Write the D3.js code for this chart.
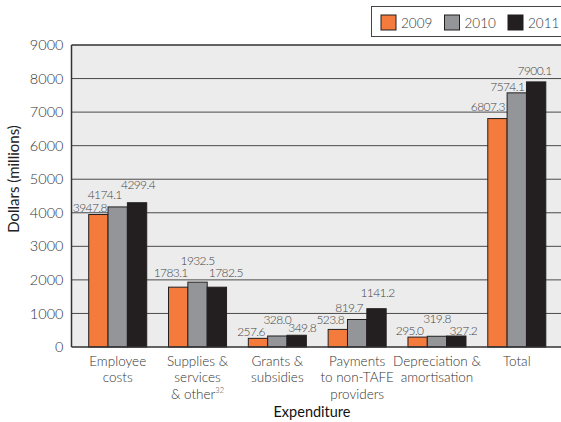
<!DOCTYPE html>
<html>
<head>
<meta charset="utf-8">
<script src="https://cdn.jsdelivr.net/npm/d3@7"></script>
<style>
  html, body { margin: 0; padding: 0; background: #fff; }
  svg { display: block; font-family: Lato, "Open Sans", sans-serif; font-weight: 300; }
</style>
</head>
<body>
<svg id="chart" width="561" height="422"></svg>
<script>
// ---- data ----
const categories = [
  ["Employee", "costs"],
  ["Supplies &", "services", "& other"],
  ["Grants &", "subsidies"],
  ["Payments", "to non-TAFE", "providers"],
  ["Depreciation &", "amortisation"],
  ["Total"]
];
const categoryKeys = ["Employee costs", "Supplies & services & other", "Grants & subsidies",
  "Payments to non-TAFE providers", "Depreciation & amortisation", "Total"];
const years = ["2009", "2010", "2011"];
const values2009 = [3947.8, 1783.1, 257.6, 523.8, 295.0, 6807.3];
const values2010 = [4174.1, 1932.5, 328.0, 819.7, 319.8, 7574.1];
const values2011 = [4299.4, 1782.5, 349.8, 1141.2, 327.2, 7900.1];
const yTicks = [0, 1000, 2000, 3000, 4000, 5000, 6000, 7000, 8000, 9000];

// ---- layout (label nudges relative to bar centre / bar top) ----
const labelNudge = [
  [[-8.5, -6.5], [-13, -12], [1, -17.7]],
  [[-7.5, -14], [0, -21], [9, -14]],
  [[-7, -6], [0, -15.5], [5.5, -7]],
  [[-7.5, -9.4], [-8, -11.5], [1, -15.7]],
  [[-8, -6], [0, -17], [7, -5]],
  [[-9.6, -11.6], [-9.5, -6], [-1.5, -11]]
];
const colors = ["#F47B3B", "#939598", "#231F20"];

const series = [values2009, values2010, values2011];
const svg = d3.select("#chart");
const mLeft = 71.5, mTop = 45, mBottom = 347, mRight = 563;

const y = d3.scaleLinear().domain([0, 9000]).range([mBottom, mTop]);
const x = d3.scaleBand().domain(categoryKeys).range([mLeft, mRight])
  .paddingInner(0.273).paddingOuter(0.2155);
const xs = d3.scaleBand().domain(years).range([0, x.bandwidth()]);

// plot background
svg.append("rect").attr("x", mLeft).attr("y", mTop)
  .attr("width", mRight - mLeft).attr("height", mBottom - mTop).attr("fill", "#ECECEC");

// gridlines
svg.append("g").selectAll("line").data(yTicks.filter(d => d > 0 && d < 9000)).join("line")
  .attr("x1", mLeft).attr("x2", mRight)
  .attr("y1", d => y(d)).attr("y2", d => y(d))
  .attr("stroke", "#4a4a4a").attr("stroke-width", 1);

// top border
svg.append("line").attr("x1", mLeft).attr("x2", mRight).attr("y1", y(9000)).attr("y2", y(9000))
  .attr("stroke", "#333").attr("stroke-width", 1.3);

// y axis
const yAxis = d3.axisLeft(y).tickValues(yTicks).tickSize(0).tickPadding(8).tickFormat(d3.format("d"));
const yg = svg.append("g").attr("transform", `translate(${mLeft},0)`).call(yAxis);
yg.select(".domain").remove();
yg.selectAll("text").attr("font-size", 14.5).attr("fill", "#333")
  .attr("font-family", "Lato, sans-serif").attr("font-weight", 300);

// bars
const groups = svg.append("g").selectAll("g").data(categoryKeys).join("g")
  .attr("transform", d => `translate(${x(d)},0)`);
groups.each(function(cat, ci) {
  const g = d3.select(this);
  years.forEach((yr, si) => {
    const v = series[si][ci];
    g.append("rect")
      .attr("x", xs(yr)).attr("width", xs.bandwidth())
      .attr("y", y(v)).attr("height", y(0) - y(v))
      .attr("fill", colors[si]).attr("stroke", "#231F20").attr("stroke-width", 1);
  });
  years.forEach((yr, si) => {
    const v = series[si][ci];
    const n = labelNudge[ci][si];
    g.append("text")
      .attr("x", xs(yr) + xs.bandwidth() / 2 + n[0])
      .attr("y", y(v) + n[1] + 4)
      .attr("text-anchor", "middle")
      .attr("font-size", 12).attr("letter-spacing", -0.6)
      .attr("fill", "#444")
      .text(d3.format(".1f")(v));
  });
});

// x axis line and left axis line
svg.append("line").attr("x1", mLeft).attr("x2", mRight).attr("y1", mBottom).attr("y2", mBottom)
  .attr("stroke", "#333").attr("stroke-width", 1.5);
svg.append("line").attr("x1", mLeft).attr("x2", mLeft).attr("y1", mTop).attr("y2", mBottom)
  .attr("stroke", "#333").attr("stroke-width", 1.5);

// category labels via x axis (one text element per line)
const xAxis = d3.axisBottom(x).tickSize(0).tickPadding(0);
const xg = svg.append("g").attr("transform", `translate(0,${mBottom})`).call(xAxis);
xg.select(".domain").remove();
xg.selectAll(".tick").each(function(k) {
  const i = categoryKeys.indexOf(k);
  const tick = d3.select(this);
  tick.select("text").remove();
  categories[i].forEach((line, li) => {
    const t = tick.append("text")
      .attr("x", 0).attr("y", 19 + li * 16.3)
      .attr("text-anchor", "middle")
      .attr("font-size", 13.5).attr("fill", "#333")
      .attr("font-family", "Lato, sans-serif").attr("font-weight", 300)
      .text(line);
    if (i === 1 && li === 2) {
      t.append("tspan").attr("font-size", 7.5).attr("dy", -6).text("32");
    }
  });
});

// axis titles
svg.append("text").attr("transform", "translate(19,179) rotate(-90)")
  .attr("text-anchor", "middle").attr("font-size", 15).attr("fill", "#222")
  .attr("font-weight", 400)
  .text("Dollars (millions)");
svg.append("text").attr("x", 312).attr("y", 417)
  .attr("text-anchor", "middle").attr("font-size", 14.5).attr("font-weight", 400).attr("fill", "#111")
  .text("Expenditure");

// legend
const lg = svg.append("g");
lg.append("rect").attr("x", 371.5).attr("y", 6.5).attr("width", 200).attr("height", 30)
  .attr("fill", "#fff").attr("stroke", "#444").attr("stroke-width", 1);
const legendX = d3.scalePoint().domain(years).range([381, 508]);
years.forEach((yr, si) => {
  lg.append("rect").attr("x", legendX(yr)).attr("y", 15).attr("width", 15).attr("height", 15)
    .attr("fill", colors[si]).attr("stroke", "#231F20").attr("stroke-width", 1);
  lg.append("text").attr("x", legendX(yr) + 20).attr("y", 27.5)
    .attr("font-size", 13.5).attr("fill", "#333").text(yr);
});
</script>
</body>
</html>
